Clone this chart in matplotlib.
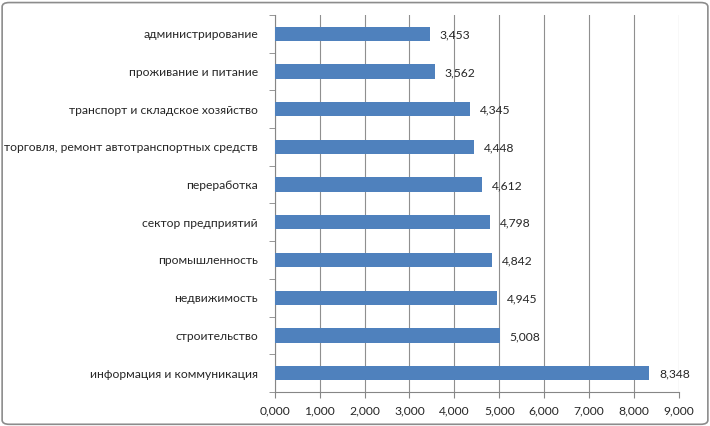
import matplotlib
matplotlib.use("Agg")
import matplotlib.pyplot as plt
from matplotlib.patches import FancyBboxPatch

categories = [
    "информация и коммуникация",
    "строительство",
    "недвижимость",
    "промышленность",
    "сектор предприятий",
    "переработка",
    "торговля, ремонт автотранспортных средств",
    "транспорт и складское хозяйство",
    "проживание и питание",
    "администрирование",
]
values = [8348, 5008, 4945, 4842, 4798, 4612, 4448, 4345, 3562, 3453]
x_ticks = [0, 1000, 2000, 3000, 4000, 5000, 6000, 7000, 8000, 9000]


def fmt(v):
    # excel style: thousand sep as comma
    return "{:,.0f}".format(v)


plt.rcParams["font.family"] = ["Lato", "DejaVu Sans"]

fig = plt.figure(figsize=(7.1, 4.26), dpi=100)
ax = fig.add_axes([0.387, 0.080, 0.569, 0.885])

# chart border
border = FancyBboxPatch((0.003, 0.004), 0.994, 0.99, boxstyle="round,pad=0,rounding_size=0.01",
                        transform=fig.transFigure, fill=False, edgecolor="#8c8c8c", linewidth=1.2)
fig.patches.append(border)

pos = list(range(len(categories)))
ax.barh(pos, values, height=0.38, color="#4f81bd", zorder=3)

for p, v in zip(pos, values):
    ax.text(v + 220, p - 0.03, fmt(v), va="center", ha="left", fontsize=8.7, color="#262626", zorder=4)

ax.set_xlim(0, 9000)
ax.set_ylim(-0.5, len(categories) - 0.5)
ax.set_xticks(x_ticks)
ax.set_xticklabels(["{:,.0f},000".format(t / 1000) for t in x_ticks], fontsize=8.7, color="#262626")
ax.set_yticks(pos)
ax.set_yticklabels(categories, fontsize=8.7, color="#262626")
ax.tick_params(axis="y", length=0, pad=12)
ax.tick_params(axis="x", length=4, color="#868686", pad=6)

# minor ticks between categories on y axis
ax.set_yticks([p - 0.5 for p in pos] + [len(categories) - 0.5], minor=True)
ax.tick_params(axis="y", which="minor", length=4, color="#868686")

ax.grid(axis="x", color="#8f8f8f", linewidth=0.8, zorder=0)
for s in ["top", "right"]:
    ax.spines[s].set_visible(False)
ax.spines["left"].set_color("#868686")
ax.spines["bottom"].set_color("#868686")

fig.savefig("out.png", dpi=100)
